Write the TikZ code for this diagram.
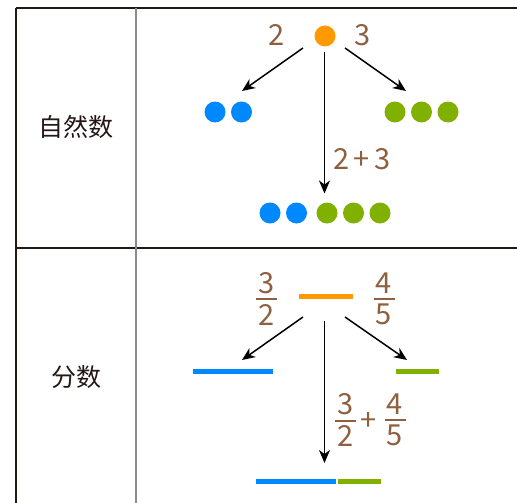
\documentclass[tikz,border=0pt]{standalone}
\usepackage{fontspec}
\setmainfont{Noto Sans CJK SC}
\newfontfamily\cjk{Noto Sans CJK SC}
\usetikzlibrary{
    arrows.meta,
    calc,
}
\definecolor{numbrown}{HTML}{8E6040}
\definecolor{dotorange}{HTML}{FF9900}
\definecolor{dotblue}{HTML}{0088FF}
\definecolor{dotgreen}{HTML}{80B000}
\definecolor{tabline}{HTML}{231815}
\definecolor{tabgrey}{HTML}{8C8C8C}
% stacked fraction: numerator, bar, denominator
\newcommand\stackfrac[2]{\vbox{\hbox to 21pt{\hss#1\hss}\kern5pt\hrule height 2pt\kern4pt\hbox to 21pt{\hss#2\hss}}}

\begin{document}
\begin{tikzpicture}[x=1pt, y=-1pt,
        ball/.style={circle, inner sep=0pt, minimum size=21pt, node distance=26.5pt},
        strip/.style={rectangle, inner sep=0pt, minimum height=5pt},
        num/.style={text=numbrown, font=\fontsize{29}{31}\selectfont},
        fracnum/.style={num, inner sep=0pt},
        kind/.style={text=tabline, font=\cjk\fontsize{25}{28}\selectfont},
        arr/.style={-{Stealth[length=13pt, width=11pt, inset=4pt]}, line width=1.5pt},
        frame/.style={draw=tabline, line width=1.2pt},
        ]
        \useasboundingbox (0,0) rectangle (517,503);
        % table
        \draw[frame] (16,8) -- (517,8);
        \draw[frame] (16,248) -- (517,248);
        \draw[frame] (16,8) -- (16,503);
        \draw[draw=tabgrey, line width=1.3pt] (136,8) -- (136,503);
        \node[kind] (NAT)  at (76,127) {自然数};
        \node[kind] (FRAC) at (76,377) {分数};
        % natural numbers
        \node[ball, fill=dotorange] (O1) at (325,36) {};
        \node[num] (N2) at (277,35) {2};
        \node[num] (N3) at (363,35) {3};
        \node[ball, fill=dotblue]  (B1) at (215,112) {};
        \node[ball, fill=dotblue]  (B2) [right of=B1] {};
        \node[ball, fill=dotgreen] (G1) at (395,112) {};
        \node[ball, fill=dotgreen] (G2) [right of=G1] {};
        \node[ball, fill=dotgreen] (G3) [right of=G2] {};
        \node[ball, fill=dotblue]  (S1) at (270,213) {};
        \node[ball, fill=dotblue]  (S2) [right of=S1] {};
        \node[ball, fill=dotgreen] (S3) at (327,213) {};
        \node[ball, fill=dotgreen] (S4) [right of=S3] {};
        \node[ball, fill=dotgreen] (S5) [right of=S4] {};
        \node[num] (SUM1) at (362,159) {2\,+\,3};
        \coordinate (A1) at (303,48);
        \coordinate (A2) at (242,91);
        \coordinate (A3) at (345,48);
        \coordinate (A4) at (406,91);
        \coordinate (A5) at (324.5,52);
        \coordinate (A6) at (324.5,193.5);
        \draw[arr] (A1) -- (A2);
        \draw[arr] (A3) -- (A4);
        \draw[arr] (A5) -- (A6);
        % fractions
        \node[strip, fill=dotorange, minimum width=53.5pt] (O2) at (326,296.7) {};
        \node[fracnum] (F1) at (266.7,298.7) {\stackfrac{3}{2}};
        \node[fracnum] (F2) at (384,298.7) {\stackfrac{4}{5}};
        \node[strip, fill=dotblue,  minimum width=80pt]   (L1) at (232.5,371) {};
        \node[strip, fill=dotgreen, minimum width=42.7pt] (R1) at (417.3,371) {};
        \node[strip, fill=dotblue,  minimum width=80pt]   (L2) at (296,481.3) {};
        \node[strip, fill=dotgreen, minimum width=42.7pt] (R2) at (359.7,481.3) {};
        \node[fracnum] (F3) at (345.8,420) {\stackfrac{3}{2}};
        \node[num, inner sep=0pt] (PLUS) at (368.3,421) {+};
        \node[fracnum] (F4) at (395,420) {\stackfrac{4}{5}};
        \coordinate (C1) at (303,317);
        \coordinate (C2) at (242,360);
        \coordinate (C3) at (345,317);
        \coordinate (C4) at (407,360);
        \coordinate (C5) at (324.5,321);
        \coordinate (C6) at (324.5,463);
        \draw[arr] (C1) -- (C2);
        \draw[arr] (C3) -- (C4);
        \draw[arr] (C5) -- (C6);
\end{tikzpicture}
\end{document}
